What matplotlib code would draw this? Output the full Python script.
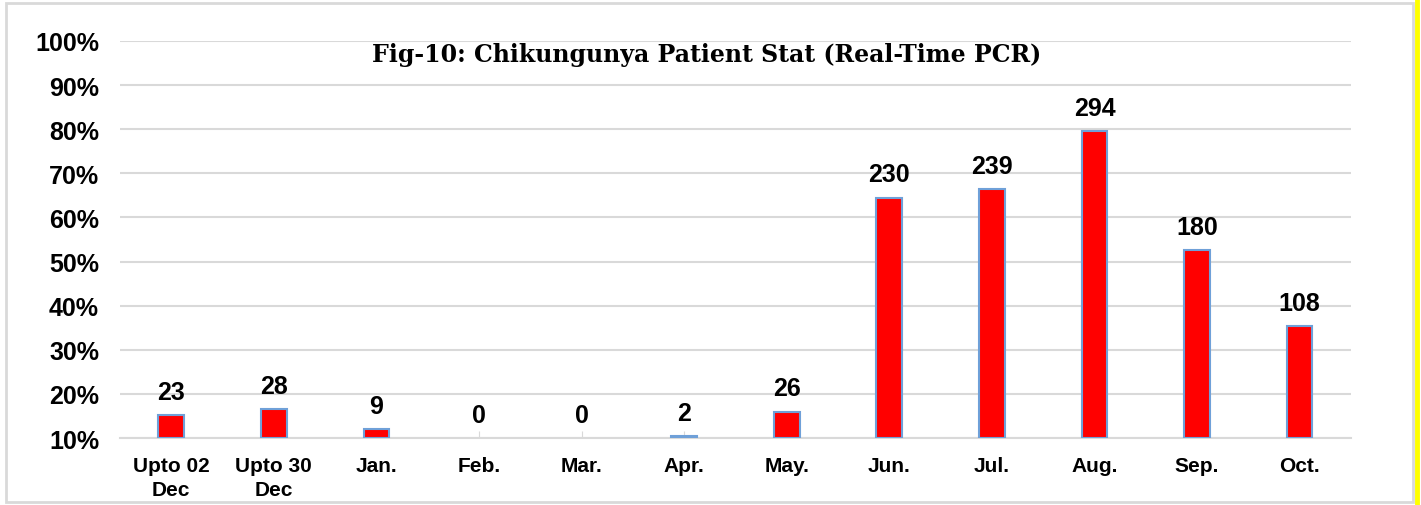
import matplotlib.pyplot as plt
from matplotlib.patches import Rectangle
from matplotlib.lines import Line2D

months = ["Upto 02\nDec", "Upto 30\nDec", "Jan.", "Feb.", "Mar.", "Apr.",
          "May.", "Jun.", "Jul.", "Aug.", "Sep.", "Oct."]
patients = [23, 28, 9, 0, 0, 2, 26, 230, 239, 294, 180, 108]
# bar heights
bar_pct = [15.3, 16.5, 12.0, 10.0, 10.0, 10.5, 16.0, 64.5, 66.5, 79.6, 52.6, 35.4]
y_ticks = [10, 20, 30, 40, 50, 60, 70, 80, 90, 100]

fig = plt.figure(figsize=(14.21, 5.06), dpi=100)
ax = fig.add_axes([0.0844, 0.1324, 0.8663, 0.7846])

x = range(len(months))
base = 10
heights = [v - base for v in bar_pct]
bars = ax.bar(x, heights, bottom=base, width=0.25, color="#FF0000",
              edgecolor="#6FA0D8", linewidth=1.5, zorder=3)
for rect, h in zip(bars, heights):
    if h == 0:
        rect.set_linewidth(0)

for rect, n in zip(bars, patients):
    top = rect.get_y() + rect.get_height()
    ax.annotate(str(n), (rect.get_x() + rect.get_width() / 2, top),
                xytext=(0, 8), textcoords="offset points", ha="center", va="bottom",
                fontsize=18, fontweight="bold", family="Liberation Sans")

ax.set_xlim(-0.5, len(months) - 0.5)
ax.set_ylim(base, 100)
ax.set_yticks(y_ticks)
ax.set_yticklabels([f"{t}%" for t in y_ticks], fontsize=18, fontweight="bold",
                   family="Liberation Sans")
ax.set_xticks(list(x))
ax.set_xticklabels(months, fontsize=15, fontweight="bold", family="Liberation Sans",
                   linespacing=1.3)
ax.tick_params(axis="y", length=0, pad=15)
ax.tick_params(axis="x", direction="in", length=5, color="#D9D9D9", pad=13)
ax.yaxis.grid(True, color="#D9D9D9", linewidth=1.5, zorder=0)
ax.set_axisbelow(True)
for side in ["left", "right", "top"]:
    ax.spines[side].set_visible(False)
ax.spines["bottom"].set_color("#D9D9D9")
ax.spines["bottom"].set_linewidth(1.5)

fig.text(0.497, 0.891, "Fig-10: Chikungunya Patient Stat (Real-Time PCR)",
         ha="center", va="center", fontsize=17, fontweight="bold", family="DejaVu Serif")

# outer frame and yellow edge
fig.patches.append(Rectangle((6 / 1421, 3 / 506), 1407 / 1421, 499 / 506,
                             transform=fig.transFigure, fill=False,
                             edgecolor="#D9D9D9", linewidth=2))
fig.lines.append(Line2D([1417 / 1421, 1417 / 1421], [0, 1], transform=fig.transFigure,
                        color="#FFFF00", linewidth=3.5))

fig.savefig("out.png", dpi=100)
